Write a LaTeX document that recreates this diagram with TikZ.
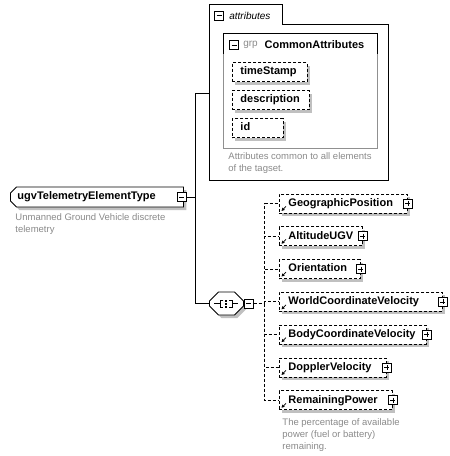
\documentclass[tikz,border=0pt]{standalone}
\usepackage{fontspec}
\setmainfont{Liberation Sans}
\usetikzlibrary{positioning,shapes.misc,shadows,calc,arrows.meta}
\definecolor{sombra}{HTML}{C0C0C0}
\definecolor{gristx}{HTML}{8A8A8A}
\definecolor{grisln}{HTML}{909090}
\newcommand\octo{(-17,-2.5) -- (-8,-11.5) -- (8,-11.5) -- (17,-2.5) -- (17,2.5) -- (8,11.5) -- (-8,11.5) -- (-17,2.5) -- cycle}

\begin{document}
\begin{tikzpicture}[x=1pt,y=-1pt,line width=0.9pt,
    font=\fontsize{11}{13}\selectfont\bfseries,
    sh/.style={drop shadow={shadow xshift=3pt,shadow yshift=-3pt,fill=sombra,opacity=1}},
    el/.style={draw,fill=white,sh,anchor=west,minimum height=19pt,inner xsep=9pt,inner ysep=0pt,align=left,text height=8pt,text depth=2.5pt},
    opc/.style={el,dash pattern=on 3pt off 2pt},
    nota/.style={anchor=north west,inner sep=0pt,align=left,text=gristx,font=\fontsize{9.5}{12}\selectfont},
    menos/.style={draw,fill=white,minimum size=9pt,inner sep=0pt,line width=0.8pt,
      path picture={\draw ($(path picture bounding box.west)+(2pt,0)$) -- ($(path picture bounding box.east)+(-2pt,0)$);}},
    mas/.style={draw,fill=white,minimum size=9pt,inner sep=0pt,line width=0.8pt,
      path picture={\draw ($(path picture bounding box.west)+(2pt,0)$) -- ($(path picture bounding box.east)+(-2pt,0)$);
        \draw ($(path picture bounding box.north)+(0,-2pt)$) -- ($(path picture bounding box.south)+(0,2pt)$);}},
    dsh/.style={dash pattern=on 3pt off 2pt}]
  \useasboundingbox (0,0) rectangle (450,456);

  % main element
  \node[el,chamfered rectangle,chamfered rectangle corners={north west,south west},
    chamfered rectangle xsep=3pt,chamfered rectangle ysep=3pt,inner xsep=4pt,text width=159pt,minimum height=20pt] (ugv) at (10,197) {ugvTelemetryElementType};
  \node[menos] (ugvm) at ([xshift=-2pt]ugv.east) {};
  \node[nota] (ugvd) at (15,213) {Unmanned Ground Vehicle discrete\\telemetry};
  \coordinate (jn) at (195,197);
  \draw (ugvm) -- (jn);

  % attributes
  \node[anchor=north west,minimum width=179pt,minimum height=156pt,inner sep=0pt] (attr) at (209,24) {};
  \node[anchor=south west,minimum width=73pt,minimum height=19pt,inner sep=0pt] (tab) at (attr.north west) {};
  \draw (attr.south west) -- (tab.north west) -- (tab.north east) -- (tab.south east) -- (attr.north east) -- (attr.south east) -- cycle;
  \node[menos] (tabm) at ([shift={(10,1.5)}]tab.west) {};
  \node[anchor=west,inner sep=0pt,font=\fontsize{10}{12}\selectfont\itshape] (tabt) at ([xshift=5pt]tabm.east) {attributes};
  \draw (jn) |- ([yshift=9pt]attr.west);

  % group
  \node[draw=grisln,anchor=north west,minimum width=154pt,minimum height=115pt,inner sep=0pt] (grp) at (223,33) {};
  \node[anchor=north west,minimum width=154pt,minimum height=20pt,inner sep=0pt] (grph) at (grp.north west) {};
  \draw (grph.south west) -- (grph.north west) -- (grph.north east) -- (grph.south east);
  \node[menos] (grpm) at ([shift={(11,1.5)}]grph.west) {};
  \node[anchor=west,inner sep=0pt,text=gristx,font=\fontsize{10}{12}\selectfont] (grpt) at ([xshift=4pt]grpm.east) {grp};
  \node[anchor=west,inner sep=0pt] (grpn) at ([xshift=6pt]grpt.east) {CommonAttributes};
  \node[opc,inner xsep=8pt,text width=59pt] (ts) at (232,72) {timeStamp};
  \node[opc,inner xsep=8pt,text width=61pt] (desc) at (232,100) {description};
  \node[opc,inner xsep=8pt,text width=35pt] (id) at (232,128) {id};
  \node[nota] (attrd) at (228,152) {Attributes common to all elements\\of the tagset.};

  % sequence
  \node[minimum width=34pt,minimum height=23pt,inner sep=0pt,anchor=west] (seq) at (209,303.5) {};
  \begin{scope}[shift={(seq.center)},line width=0.8pt]
    \fill[sombra] [shift={(3,3)}] \octo;
    \draw[fill=white,line width=0.9pt] \octo;
    \draw (-12,0) -- (-6,0) (6,0) -- (12,0);
    \draw (-3,-3.5) -- (-6,-3.5) -- (-6,3.5) -- (-3,3.5);
    \draw (3,-3.5) -- (6,-3.5) -- (6,3.5) -- (3,3.5);
    \foreach \d in {-3,0,3} \fill (-1,\d-1) rectangle (1,\d+1);
  \end{scope}
  \node[menos,anchor=west] (seqm) at (seq.east) {};
  \coordinate (bus) at ([xshift=11pt]seqm.east);
  \draw (jn) |- (seq);
  \draw[dsh] (seqm) -- (bus);

  % children
  \foreach \n/\t/\w [count=\i from 0] in {geo/GeographicPosition/128,alt/AltitudeUGV/83,ori/Orientation/81,
      wcv/WorldCoordinateVelocity/163,bcv/BodyCoordinateVelocity/147,dop/DopplerVelocity/107,rem/RemainingPower/113}{
    \pgfmathsetmacro\tw{\w-18}
    \node[opc,text width=\tw pt] (\n) at (279,203.5+32.8*\i) {\t};
    \node[mas] (\n m) at (\n.east) {};
    \draw[dsh] (bus) |- (\n);
    \draw[-{Triangle[length=3pt,width=3pt]},line width=0.7pt] ($(\n.south west)+(7,-7)$) -- ($(\n.south west)+(2.5,-2.5)$);
  }
  \node[nota] (remd) at (282,418) {The percentage of available\\power (fuel or battery)\\remaining.};
\end{tikzpicture}
\end{document}
